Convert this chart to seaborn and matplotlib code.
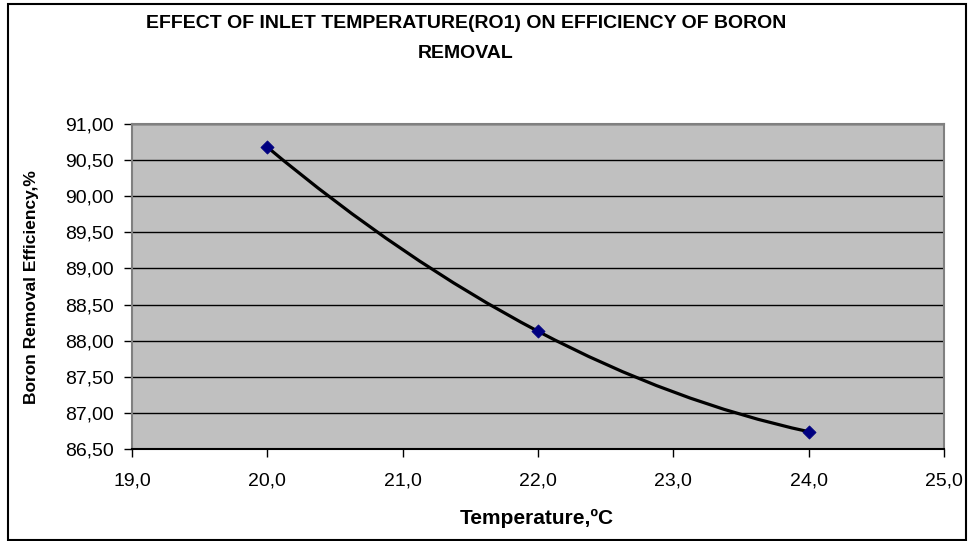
import matplotlib
matplotlib.use("Agg")
import matplotlib.pyplot as plt
import seaborn as sns
import numpy as np
import pandas as pd
from matplotlib.path import Path
from matplotlib.patches import PathPatch, Rectangle
from matplotlib.ticker import FuncFormatter

temperature = [20.0, 22.0, 24.0]
efficiency = [90.68, 88.13, 86.74]
title = "EFFECT OF INLET TEMPERATURE(RO1) ON EFFICIENCY OF BORON\nREMOVAL"
xlabel = "Temperature,ºC"
ylabel = "Boron Removal Efficiency,%"

sns.set_theme(style="white")
plt.rcParams['font.family'] = ['Liberation Sans', 'DejaVu Sans']
plt.rcParams['text.color'] = 'black'

df = pd.DataFrame({"t": temperature, "e": efficiency})

fig = plt.figure(figsize=(9.7, 5.41), dpi=100)
ax = fig.add_axes([132/970, 1-449/541, (944-132)/970, (449-124)/541])
ax.set_facecolor("#C0C0C0")

# Smoothed line drawn as a cubic Bezier path through the data points
P = np.column_stack([temperature, efficiency]).astype(float)
n = len(P)
d = [(P[i+1, 1] - P[i, 1]) / (P[i+1, 0] - P[i, 0]) for i in range(n - 1)]
m = [0.0] * n
for i in range(1, n - 1):
    m[i] = (P[i+1, 1] - P[i-1, 1]) / (P[i+1, 0] - P[i-1, 0])
m[0] = 2 * d[0] - m[1]
m[-1] = 2 * d[-1] - m[-2]
verts = [tuple(P[0])]
codes = [Path.MOVETO]
for i in range(n - 1):
    h = P[i+1, 0] - P[i, 0]
    c1 = (P[i, 0] + h/3, P[i, 1] + m[i]*h/3)
    c2 = (P[i+1, 0] - h/3, P[i+1, 1] - m[i+1]*h/3)
    verts += [c1, c2, tuple(P[i+1])]
    codes += [Path.CURVE4] * 3
ax.add_patch(PathPatch(Path(verts, codes), fill=False, edgecolor="black", lw=2.3, zorder=3))

sns.scatterplot(data=df, x="t", y="e", ax=ax, marker="D", s=45, color="#000080",
                edgecolor="#000080", zorder=4, legend=False)

ax.set_xlim(19, 25)
ax.set_ylim(86.5, 91.0)
ax.set_xticks(np.arange(19, 25.01, 1.0))
ax.set_yticks(np.arange(86.5, 91.01, 0.5))
ax.xaxis.set_major_formatter(FuncFormatter(lambda v, p: f"{v:.1f}".replace(".", ",")))
ax.yaxis.set_major_formatter(FuncFormatter(lambda v, p: f"{v:.2f}".replace(".", ",")))
ax.yaxis.grid(True, color="black", lw=1.0)
ax.xaxis.grid(False)
ax.set_axisbelow(True)

ax.tick_params(axis="both", direction="out", length=6, width=1, color="black",
               labelsize=14, labelcolor="black")
ax.tick_params(axis="y", pad=7)
ax.tick_params(axis="x", pad=11)
ax.tick_params(left=True, bottom=True)

for s in ["top", "right", "left"]:
    ax.spines[s].set_color("#808080")
    ax.spines[s].set_linewidth(1.5)
ax.spines["bottom"].set_color("black")
ax.spines["bottom"].set_linewidth(1.5)

ax.set_xlabel("")
ax.set_ylabel("")
fig.text(537/970, 1-518/541, xlabel, ha="center", va="center", fontsize=15,
         fontweight="bold", color="black")
fig.text(32/970, 1-287/541, ylabel, ha="center", va="center", rotation=90,
         fontsize=12.5, fontweight="bold", color="black")
fig.text(466/970, 1-38/541, title, ha="center", va="center", fontsize=14,
         fontweight="bold", linespacing=2.0, color="black")

fig.patches.append(Rectangle((8/970, 0.002), 958/970, 0.99, transform=fig.transFigure,
                             fill=False, edgecolor="black", lw=1.5))

fig.savefig("out.png", dpi=100, facecolor="white")
